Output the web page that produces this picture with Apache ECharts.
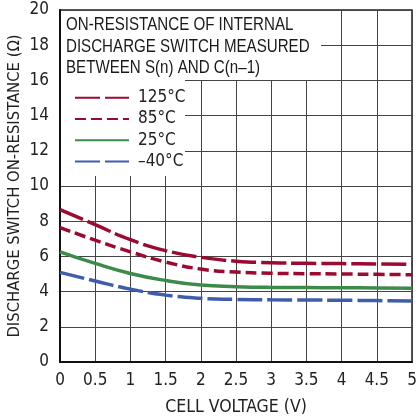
<!DOCTYPE html>
<html>
<head>
<meta charset="utf-8">
<script src="https://cdn.jsdelivr.net/npm/echarts@6/dist/echarts.min.js"></script>
<style>html,body{margin:0;padding:0;background:#fff}#c{width:417px;height:419px}</style>
</head>
<body>
<div id="c"></div>
<script>
const cellVoltage = [0, 0.5, 1, 1.5, 2, 2.5, 3, 3.5, 4, 4.5, 5];
const r125 = [8.66, 7.80, 6.95, 6.33, 5.95, 5.73, 5.64, 5.61, 5.59, 5.57, 5.55];
const r85  = [7.64, 6.92, 6.26, 5.68, 5.28, 5.11, 5.04, 5.02, 5.00, 4.98, 4.96];
const r25  = [6.26, 5.60, 5.03, 4.63, 4.37, 4.28, 4.24, 4.23, 4.22, 4.21, 4.19];
const rm40 = [5.09, 4.60, 4.14, 3.80, 3.62, 3.56, 3.53, 3.52, 3.51, 3.49, 3.47];
const seriesNames = ['125°C', '85°C', '25°C', '–40°C'];
const titleLines = ['ON-RESISTANCE OF INTERNAL', 'DISCHARGE SWITCH MEASURED', 'BETWEEN S(n) AND C(n–1)'];
const xName = 'CELL VOLTAGE (V)';
const yName = 'DISCHARGE SWITCH ON-RESISTANCE (Ω)';

const FONT = '"Liberation Sans Narrow", "DejaVu Sans Condensed", sans-serif';
const pair = arr => cellVoltage.map((x, i) => [x, arr[i]]);
const RED = '#9c0a30', GREEN = '#3d8b4b', BLUE = '#3f5dab';

function mk(name, data, color, dash) {
  return {
    name, type: 'line', data: pair(data), showSymbol: false, symbol: 'none',
    smooth: 0.5, z: 3,
    lineStyle: { color, width: 3.5, type: dash },
    itemStyle: { color }
  };
}

const chart = echarts.init(document.getElementById('c'), null, { renderer: 'canvas' });
chart.setOption({
  animation: false,
  backgroundColor: '#fff',
  grid: { left: 60, right: 5, top: 10, bottom: 57, outerBoundsMode: 'none', containLabel: false,
          show: true, borderColor: '#222', borderWidth: 1.5, backgroundColor: 'transparent' },
  graphic: [
    { type: 'rect', z: 1, shape: { x: 61, y: 11, width: 260, height: 69 }, style: { fill: '#fff' } },
    { type: 'rect', z: 1, shape: { x: 61, y: 79, width: 124, height: 97 }, style: { fill: '#fff' } },
    { type: 'text', z: 6, x: 66, y: 14, scaleX: 0.84,
      style: { text: titleLines.join('\n'), font: '18px "Liberation Sans", sans-serif', lineHeight: 21.7, fill: '#1a1a1a' } }
  ],
  legend: {
    orient: 'vertical', left: 74, top: 88.7, padding: 0, itemGap: 3.3,
    itemWidth: 54, itemHeight: 18, z: 6,
    itemStyle: { opacity: 0 },
    data: seriesNames,
    textStyle: { fontFamily: FONT, fontSize: 17, color: '#222', lineHeight: 18, padding: [0, 0, 0, 4] }
  },
  xAxis: {
    type: 'value', min: 0, max: 5, interval: 0.5,
    name: xName, nameLocation: 'middle', nameGap: 36, nameMoveOverlap: false,
    nameTextStyle: { fontFamily: FONT, fontSize: 17.5, color: '#222' },
    axisLine: { lineStyle: { color: '#111', width: 2 } },
    axisTick: { show: false },
    axisLabel: { fontFamily: FONT, fontSize: 17, color: '#222', margin: 10 },
    splitLine: { lineStyle: { color: '#444', width: 1 } }
  },
  yAxis: {
    type: 'value', min: 0, max: 20, interval: 2,
    name: yName, nameLocation: 'middle', nameGap: 37, nameMoveOverlap: false,
    nameTextStyle: { fontFamily: FONT, fontSize: 16.5, color: '#222' },
    axisLine: { show: true, lineStyle: { color: '#111', width: 2 } },
    axisTick: { show: false },
    axisLabel: { fontFamily: FONT, fontSize: 17, color: '#222', margin: 11 },
    splitLine: { lineStyle: { color: '#444', width: 1 } }
  },
  series: [
    mk(seriesNames[0], r125, RED, [25, 5]),
    mk(seriesNames[1], r85, RED, [11, 5]),
    mk(seriesNames[2], r25, GREEN, 'solid'),
    mk(seriesNames[3], rm40, BLUE, [25, 5])
  ]
});
</script>
</body>
</html>
